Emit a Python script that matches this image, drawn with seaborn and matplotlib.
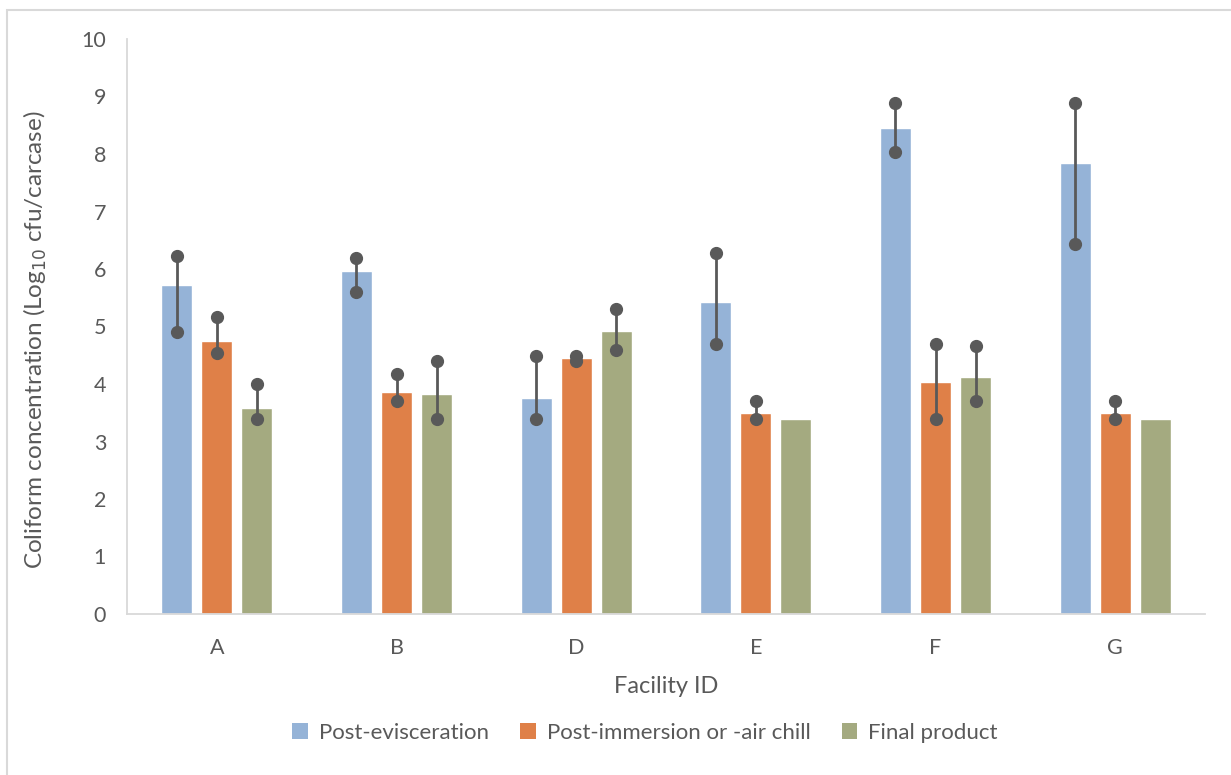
import numpy as np
import pandas as pd
import matplotlib
matplotlib.use("Agg")
import matplotlib.pyplot as plt
from matplotlib.patches import Rectangle, Patch
import seaborn as sns

# Facilities and processing stages
facilities = ["A", "B", "D", "E", "F", "G"]
stages = ["Post-evisceration", "Post-immersion or -air chill", "Final product"]

# Mean coliform counts (log10 cfu/carcase) per stage
post_evisceration = [5.72, 5.97, 3.75, 5.43, 8.45, 7.84]
post_chill = [4.75, 3.86, 4.45, 3.49, 4.03, 3.49]
final_product = [3.59, 3.83, 4.92, 3.40, 4.12, 3.40]

# Observed minimum and maximum per stage
pe_min = [4.90, 5.60, 3.40, 4.70, 8.04, 6.44]
pe_max = [6.23, 6.20, 4.48, 6.28, 8.88, 8.88]
pc_min = [4.54, 3.70, 4.40, 3.40, 3.40, 3.40]
pc_max = [5.17, 4.17, 4.49, 3.70, 4.70, 3.70]
fp_min = [3.40, 3.40, 4.60, 3.40, 3.70, 3.40]
fp_max = [4.00, 4.40, 5.30, 3.40, 4.66, 3.40]

colors = ["#95B3D7", "#DF8048", "#A4AA80"]
text_color = "#595959"
axis_color = "#D9D9D9"

means = [post_evisceration, post_chill, final_product]
mins = [pe_min, pc_min, fp_min]
maxs = [pe_max, pc_max, fp_max]

df = pd.DataFrame({
    "Facility": np.tile(facilities, len(stages)),
    "Stage": np.repeat(stages, len(facilities)),
    "Value": np.concatenate(means),
})

sns.set_style("white")
plt.rcParams["font.family"] = ["Lato", "DejaVu Sans"]

fig = plt.figure(figsize=(12.31, 7.75), dpi=100)
ax = fig.add_axes([127 / 1231, 1 - 614 / 775, (1205 - 127) / 1231, (614 - 39) / 775])

sns.barplot(data=df, x="Facility", y="Value", hue="Stage", order=facilities,
            hue_order=stages, palette=colors, width=0.668, gap=0.225,
            errorbar=None, saturation=1, legend=False, ax=ax)

# Range whiskers: line from minimum to maximum with dots at both ends
for cont, lo, hi in zip(ax.containers, mins, maxs):
    for patch, l, h in zip(cont.patches, lo, hi):
        if h - l < 1e-9:
            continue
        xc = patch.get_x() + patch.get_width() / 2
        ax.plot([xc, xc], [l, h], color="#595959", lw=2, zorder=4,
                marker="o", markersize=8.5, markerfacecolor="#595959",
                markeredgecolor="#595959")

ax.set_xlim(-0.5, len(facilities) - 0.5)
ax.set_ylim(0, 10)
ax.set_yticks(range(0, 11))

# Category axis: ticks on boundaries between facilities
ax.set_xticks(np.arange(len(facilities)))
ax.set_xticklabels(facilities)
ax.set_xticks(np.arange(-0.5, len(facilities)), minor=True)
ax.tick_params(axis="x", which="major", length=0, pad=17, labelsize=15.5,
               labelcolor=text_color)
ax.tick_params(axis="x", which="minor", length=6, width=1.3, color=axis_color,
               direction="out")
ax.tick_params(axis="y", length=6, width=1.3, color=axis_color, direction="out",
               labelsize=15.5, labelcolor=text_color, pad=9)

for side in ["top", "right"]:
    ax.spines[side].set_visible(False)
for side in ["left", "bottom"]:
    ax.spines[side].set_color(axis_color)
    ax.spines[side].set_linewidth(1.3)

ax.set_xlabel("Facility ID", fontsize=17, color=text_color, labelpad=13)
ax.set_ylabel("Coliform concentration (Log$_{10}$ cfu/carcase)", fontsize=17.5,
              color=text_color)
ax.yaxis.set_label_coords(-0.072, (614 - 340) / 575)

handles = [Patch(facecolor=c, edgecolor="none") for c in colors]
leg = fig.legend(handles, stages, loc="center", bbox_to_anchor=(645 / 1231, 1 - 733 / 775),
                 ncol=3, frameon=False, fontsize=16, handlelength=0.7,
                 handleheight=0.7, handletextpad=0.5, columnspacing=1.4)
for t in leg.get_texts():
    t.set_color(text_color)

# Chart area border
fig.patches.append(Rectangle((7 / 1231, -0.05), 1.2, 1 - 10 / 775 + 0.05,
                             transform=fig.transFigure, fill=False,
                             edgecolor=axis_color, linewidth=1.5, zorder=0))

fig.savefig("out.png", dpi=100)
